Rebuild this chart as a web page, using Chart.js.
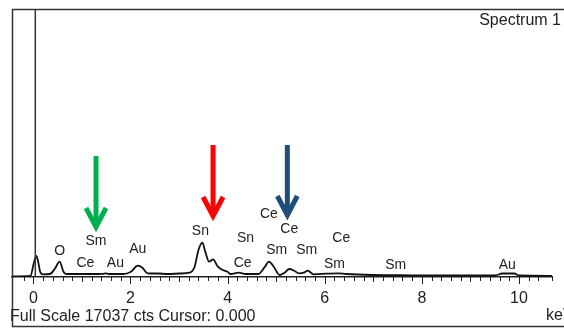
<!DOCTYPE html>
<html>
<head>
<meta charset="utf-8">
<script src="https://cdn.jsdelivr.net/npm/chart.js@4.4.0/dist/chart.umd.min.js"></script>
<style>
  html, body { margin: 0; padding: 0; background: #fff; }
  canvas { display: block; }
</style>
</head>
<body>
<canvas id="spectrum" width="564" height="328"></canvas>
<script>
// EDS spectrum: counts against energy (keV)
const energy = [-0.44, -0.06, 0.01, 0.06, 0.10, 0.14, 0.20, 0.34, 0.44, 0.54, 0.62, 0.68,
    1.15, 1.43, 1.49, 1.55, 1.85, 2.01, 2.15, 2.25, 2.35, 2.56, 2.76, 3.02, 3.22, 3.32,
    3.40, 3.48, 3.54, 3.62, 3.70, 3.80, 3.90, 4.00, 4.06, 4.23, 4.37, 4.63, 4.77, 4.85,
    4.95, 5.07, 5.17, 5.27, 5.37, 5.47, 5.57, 5.65, 5.77, 6.04, 6.28, 6.44, 6.98, 7.79,
    8.59, 9.50, 9.66, 9.90, 10.00, 10.68];
const counts = [32, 64, 890, 1335, 954, 337, 172, 191, 509, 973, 337, 191,
    191, 203, 235, 191, 191, 337, 718, 572, 235, 222, 191, 222, 273, 655,
    1716, 2180, 1608, 973, 1125, 655, 445, 337, 191, 273, 191, 191, 655, 973,
    655, 127, 273, 509, 400, 235, 273, 400, 172, 210, 235, 191, 127, 108,
    95, 95, 222, 222, 95, 76];

// element labels over the peaks
const peakLabels = ['O', 'Ce', 'Sm', 'Au', 'Au', 'Sn', 'Sn', 'Ce', 'Ce', 'Ce', 'Sm', 'Sm', 'Ce', 'Sm', 'Sm', 'Au'];
const labelEnergy = [0.54, 1.07, 1.29, 1.69, 2.15, 3.44, 4.37, 4.31, 4.85, 5.27, 5.01, 5.63, 6.34, 6.20, 7.46, 9.76];
const labelCounts = [1653, 890, 2289, 890, 1780, 2924, 2479, 890, 4005, 3051, 1716, 1716, 2479, 826, 763, 763];

// highlight arrows
const arrowEnergy = [1.29, 3.70, 5.23];
const arrowTop = [7692, 8391, 8391];
const arrowTip = [2861, 3560, 3623];
const arrowColors = ['#00b050', '#ff0000', '#1f4e79'];

const tickLabels = [0, 2, 4, 6, 8, 10];
const fullScale = 17037;
const cursorEnergy = 0.04;

const font = "'Liberation Sans', Arial, sans-serif";

const spectrumDecor = {
    id: 'spectrumDecor',
    afterDraw(chart) {
        const { ctx, chartArea, scales: { x, y } } = chart;
        ctx.save();

        // tick marks below the axis line
        ctx.strokeStyle = '#222';
        ctx.lineWidth = 1;
        x.ticks.forEach(t => {
            const v = Math.round(t.value * 10) / 10;
            let len = 4;
            if (Number.isInteger(v)) len = v % 2 === 0 ? 7 : 5;
            const px = Math.round(x.getPixelForValue(t.value)) + 0.5;
            ctx.beginPath();
            ctx.moveTo(px, chartArea.bottom);
            ctx.lineTo(px, chartArea.bottom + len);
            ctx.stroke();
        });

        // frame and cursor line
        ctx.strokeStyle = '#333';
        ctx.lineWidth = 1.5;
        ctx.beginPath();
        ctx.moveTo(chart.width, chartArea.top + 0.5);
        ctx.lineTo(chartArea.left + 0.5, chartArea.top + 0.5);
        ctx.lineTo(chartArea.left + 0.5, chart.height - 1.5);
        ctx.lineTo(chart.width, chart.height - 1.5);
        ctx.stroke();
        const cx = x.getPixelForValue(cursorEnergy);
        ctx.beginPath();
        ctx.moveTo(cx, chartArea.top);
        ctx.lineTo(cx, chartArea.bottom);
        ctx.stroke();

        // element labels
        ctx.fillStyle = '#222';
        ctx.font = '14px ' + font;
        ctx.textAlign = 'center';
        ctx.textBaseline = 'middle';
        peakLabels.forEach((lab, i) => {
            ctx.fillText(lab, x.getPixelForValue(labelEnergy[i]), y.getPixelForValue(labelCounts[i]));
        });

        // arrows
        arrowEnergy.forEach((e, i) => {
            const ax = x.getPixelForValue(e);
            const top = y.getPixelForValue(arrowTop[i]);
            const tip = y.getPixelForValue(arrowTip[i]);
            ctx.strokeStyle = arrowColors[i];
            ctx.lineWidth = 5;
            ctx.lineCap = 'butt';
            ctx.lineJoin = 'miter';
            ctx.beginPath();
            ctx.moveTo(ax, top);
            ctx.lineTo(ax, tip - 5);
            ctx.stroke();
            ctx.beginPath();
            ctx.moveTo(ax - 10, tip - 24);
            ctx.lineTo(ax, tip - 5);
            ctx.lineTo(ax + 10, tip - 24);
            ctx.stroke();
        });

        // header and footer texts
        ctx.fillStyle = '#222';
        ctx.font = '16px ' + font;
        ctx.textAlign = 'right';
        ctx.fillText('Spectrum 1', 561, 21);
        ctx.textAlign = 'left';
        ctx.fillText('Full Scale ' + fullScale + ' cts Cursor: 0.000', 10, 317);
        ctx.fillText('keV', 546, 316);
        ctx.restore();
    }
};

new Chart(document.getElementById('spectrum'), {
    type: 'line',
    data: {
        datasets: [{
            data: energy.map((e, i) => ({ x: e, y: counts[i] })),
            borderColor: '#111',
            borderWidth: 1.8,
            pointRadius: 0,
            fill: false,
            cubicInterpolationMode: 'monotone'
        }]
    },
    options: {
        responsive: false,
        animation: false,
        devicePixelRatio: 1,
        layout: { padding: { left: 11, right: 0, top: 9, bottom: 23 } },
        plugins: { legend: { display: false }, tooltip: { enabled: false } },
        scales: {
            x: {
                type: 'linear',
                min: -0.44,
                max: 10.68,
                grid: { display: false, drawTicks: false, tickLength: 0 },
                border: { display: true, color: '#222', width: 1.5 },
                ticks: {
                    stepSize: 0.2,
                    autoSkip: false,
                    maxRotation: 0,
                    padding: 12,
                    color: '#222',
                    font: { family: font, size: 16 },
                    callback: v => {
                        const r = Math.round(v);
                        return (Math.abs(v - r) < 1e-6 && tickLabels.includes(r)) ? String(r) : '';
                    }
                },
                afterFit: scale => { scale.height = 28; }
            },
            y: {
                display: false,
                min: 0,
                max: fullScale
            }
        }
    },
    plugins: [spectrumDecor]
});
</script>
</body>
</html>
